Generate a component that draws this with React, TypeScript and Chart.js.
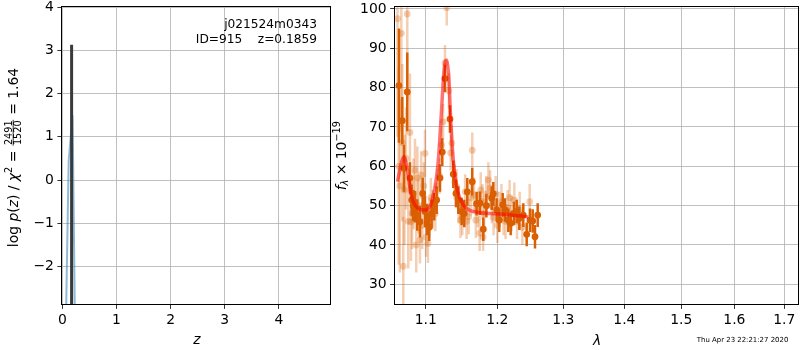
import React, { useEffect, useRef } from 'react';
import { Chart, registerables } from 'chart.js';
Chart.register(...registerables);

const FONT = '"DejaVu Sans", sans-serif';
const FS = 13.9;
const FS_SMALL = 9.7;
const FS_NOTE = 12.2;

// ---------- Left panel: redshift probability ----------
const zGrid = [0.05, 0.118, 0.19, 0.245];
const logPz = [-4.5, 0.45, 1.5, -4.5];
const zBest = 0.172;
const zBestExtent = [-3.5, 3.13];
const zTicks = [0, 1, 2, 3, 4];
const logPTicks = [-2, -1, 0, 1, 2, 3, 4];
const zMin = 0, zMax = 4.97;
const logPMin = -2.87, logPMax = 4;
const objName = 'j021524m0343';
const idLine = 'ID=915    z=0.1859';

// ---------- Right panel: spectrum ----------
const lamTicks = [1.1, 1.2, 1.3, 1.4, 1.5, 1.6, 1.7];
const fluxTicks = [30, 40, 50, 60, 70, 80, 90, 100];
const lamMin = 1.0598, lamMax = 1.7312;
const fluxMin = 25, fluxMax = 100.43;

const darkLam = [1.0649, 1.0692, 1.0714, 1.0757, 1.0792, 1.0815, 1.0836, 1.0858, 1.0888, 1.0924, 1.0960, 1.0991, 1.1020, 1.1048, 1.1080, 1.1115, 1.1148, 1.1193, 1.1224, 1.1261, 1.1329, 1.1375, 1.1412, 1.1444, 1.1491, 1.1528, 1.1570, 1.1640, 1.1702, 1.1749, 1.1797, 1.1841, 1.1918, 1.1941, 1.1990, 1.2028, 1.2078, 1.2112, 1.2161, 1.2196, 1.2245, 1.2285, 1.2324, 1.2384, 1.2435, 1.2485, 1.2526, 1.2561, 1.2602];
const darkFlux = [80.5, 71.6, 59.5, 78.9, 57.0, 51.4, 50.0, 49.7, 47.6, 45.9, 53.1, 48.5, 46.5, 44.5, 48.0, 49.7, 51.4, 57.0, 63.6, 82.3, 72.0, 58.0, 53.1, 51.4, 48.5, 48.0, 53.5, 56.1, 50.5, 50.6, 44.0, 50.0, 51.9, 53.0, 48.9, 46.3, 50.2, 48.9, 46.3, 45.5, 48.0, 48.5, 46.8, 47.6, 42.7, 46.3, 46.1, 42.1, 47.6];
const darkErr = [14.5, 6, 6, 10, 4, 4, 4, 4, 4, 4, 4, 4, 4, 3.5, 3.5, 3.5, 3.5, 3.5, 3.5, 3.5, 3.5, 3.5, 3.5, 3.5, 3.5, 3.5, 3.5, 3.5, 3, 3, 3, 3, 3, 3, 3, 3, 3, 3, 3, 3, 3, 3, 3, 3, 3, 3, 3, 3, 3];

const lightLam = [1.0630, 1.0645, 1.0660, 1.0680, 1.0692, 1.0705, 1.0720, 1.0740, 1.0757, 1.0770, 1.0792, 1.0805, 1.0820, 1.0840, 1.0858, 1.0875, 1.0890, 1.0905, 1.0924, 1.0940, 1.0955, 1.0975, 1.0991, 1.1005, 1.1030, 1.1050, 1.1070, 1.1095, 1.1130, 1.1160, 1.1190, 1.1215, 1.1235, 1.1261, 1.1285, 1.1315, 1.1340, 1.1355, 1.1395, 1.1420, 1.1450, 1.1475, 1.1500, 1.1540, 1.1560, 1.1590, 1.1620, 1.1640, 1.1665, 1.1690, 1.1720, 1.1745, 1.1760, 1.1785, 1.1795, 1.1810, 1.1840, 1.1870, 1.1895, 1.1920, 1.1945, 1.1975, 1.2000, 1.2030, 1.2060, 1.2090, 1.2120, 1.2150, 1.2180, 1.2210, 1.2250, 1.2290, 1.2330, 1.2370, 1.2480];
const lightFlux = [97.5, 60.0, 55.0, 93.8, 66.0, 34.6, 54.0, 62.0, 98.7, 46.0, 68.6, 45.9, 48.0, 53.0, 59.0, 40.0, 57.0, 50.0, 41.3, 57.8, 45.0, 55.0, 63.3, 42.0, 40.4, 47.0, 52.0, 49.0, 48.0, 55.0, 57.5, 65.4, 71.3, 86.3, 100.3, 79.2, 63.4, 65.9, 56.0, 54.8, 50.0, 46.3, 47.0, 53.5, 46.0, 47.2, 52.0, 64.1, 52.7, 46.3, 49.0, 43.0, 54.0, 51.0, 42.0, 48.0, 53.0, 56.5, 54.5, 50.0, 47.0, 53.0, 45.0, 49.0, 51.0, 47.0, 46.0, 49.5, 52.0, 48.0, 51.4, 46.0, 49.0, 44.5, 51.0];
const lightErr = [30, 25, 22, 25, 20, 12.6, 14, 13, 22, 12, 15, 10, 9, 9, 8, 7, 8, 7, 6, 6, 6, 6, 6, 5, 5, 5, 5, 5, 4.5, 4.5, 4.5, 4.5, 4.5, 4.5, 4.5, 4.5, 4.5, 4.5, 4.5, 4.5, 4.5, 4.5, 4.5, 4.5, 4.5, 4.5, 4.5, 4.5, 4.5, 4.5, 4.5, 4.5, 4.5, 4.5, 3.5, 4.5, 4.5, 4.5, 4.5, 4.5, 4.5, 4.5, 4.5, 4.5, 4.5, 4.5, 4.5, 4.5, 4.5, 4.5, 4.5, 4.5, 4.5, 4.5, 4.5];

const modelLam = [1.0630, 1.0660, 1.0690, 1.0714, 1.0740, 1.0769, 1.0790, 1.0815, 1.0845, 1.0881, 1.0930, 1.0990, 1.1030, 1.1057, 1.1080, 1.1102, 1.1125, 1.1148, 1.1165, 1.1180, 1.1197, 1.1214, 1.1230, 1.1246, 1.1265, 1.1284, 1.1300, 1.1313, 1.1325, 1.1337, 1.1356, 1.1375, 1.1398, 1.1422, 1.1455, 1.1490, 1.1530, 1.1584, 1.1650, 1.1750, 1.1900, 1.2050, 1.2200, 1.2330, 1.2460];
const modelFlux = [56.1, 59.0, 61.5, 62.4, 61.0, 57.8, 54.8, 52.2, 50.6, 49.6, 49.0, 48.9, 49.2, 49.8, 50.8, 52.6, 54.8, 57.6, 60.5, 64.0, 69.0, 74.3, 79.5, 84.0, 86.6, 87.0, 85.3, 82.8, 78.0, 72.7, 66.5, 61.6, 57.6, 54.8, 52.5, 51.0, 49.8, 49.0, 48.5, 48.2, 48.0, 47.9, 47.6, 47.4, 47.1];

const timestamp = 'Thu Apr 23 22:21:27 2020';

const ORANGE = 'rgb(217,95,2)';
const ORANGE_LIGHT = 'rgba(217,95,2,0.3)';

// ---------- helpers ----------
type Piece = { t?: string; it?: boolean; s?: number; dy?: number; frac?: [string, string] };

function pieceWidth(ctx: CanvasRenderingContext2D, p: Piece) {
  if (p.frac) {
    ctx.font = `${FS_SMALL}px ${FONT}`;
    return Math.max(ctx.measureText(p.frac[0]).width, ctx.measureText(p.frac[1]).width) + 2.4;
  }
  ctx.font = `${p.it ? 'italic ' : ''}${p.s ?? FS}px ${FONT}`;
  return ctx.measureText(p.t || '').width;
}

function drawRich(ctx: CanvasRenderingContext2D, pieces: Piece[], cx: number, cy: number, rotate: boolean) {
  ctx.save();
  ctx.translate(cx, cy);
  if (rotate) ctx.rotate(-Math.PI / 2);
  const widths = pieces.map((p) => pieceWidth(ctx, p));
  const total = widths.reduce((a, b) => a + b, 0);
  let x = -total / 2;
  ctx.fillStyle = '#000';
  ctx.strokeStyle = '#000';
  ctx.textBaseline = 'alphabetic';
  pieces.forEach((p, i) => {
    const w = widths[i];
    if (p.frac) {
      ctx.font = `${FS_SMALL}px ${FONT}`;
      ctx.textAlign = 'center';
      ctx.fillText(p.frac[0], x + w / 2, -5.6);
      ctx.fillText(p.frac[1], x + w / 2, 3.6);
      ctx.lineWidth = 0.8;
      ctx.beginPath();
      ctx.moveTo(x + 0.6, -4.3);
      ctx.lineTo(x + w - 0.6, -4.3);
      ctx.stroke();
    } else {
      ctx.font = `${p.it ? 'italic ' : ''}${p.s ?? FS}px ${FONT}`;
      ctx.textAlign = 'left';
      ctx.fillText(p.t || '', x, p.dy || 0);
    }
    x += w;
  });
  ctx.restore();
}

const framePlugin = {
  id: 'frame',
  afterDraw(chart: any) {
    const { ctx, chartArea: a } = chart;
    ctx.save();
    ctx.strokeStyle = '#000';
    ctx.lineWidth = 1;
    const l = Math.round(a.left) - 0.5, t = Math.round(a.top) - 0.5;
    const r = Math.round(a.right) - 0.5, b = Math.round(a.bottom) + 0.5;
    ctx.strokeRect(l, t, r - l, b - t);
    ctx.restore();
  },
};

const errorBarPlugin = {
  id: 'errbars',
  beforeDatasetDraw(chart: any, args: any) {
    const ds = chart.data.datasets[args.index];
    const errs: number[] | undefined = ds.errs;
    if (!errs) return;
    const xs = chart.scales.x, ys = chart.scales.y;
    const { ctx, chartArea: a } = chart;
    ctx.save();
    ctx.beginPath();
    ctx.rect(a.left, a.top, a.right - a.left, a.bottom - a.top);
    ctx.clip();
    ctx.strokeStyle = ds.errColor;
    ctx.lineWidth = ds.errWidth;
    ds.data.forEach((p: any, i: number) => {
      const x = xs.getPixelForValue(p.x);
      ctx.beginPath();
      ctx.moveTo(x, ys.getPixelForValue(p.y - errs[i]));
      ctx.lineTo(x, ys.getPixelForValue(p.y + errs[i]));
      ctx.stroke();
    });
    ctx.restore();
  },
};

const leftText = {
  id: 'leftText',
  afterDraw(chart: any) {
    const { ctx, chartArea: a } = chart;
    ctx.save();
    ctx.fillStyle = '#000';
    ctx.font = `${FS_NOTE}px ${FONT}`;
    ctx.textAlign = 'right';
    ctx.textBaseline = 'alphabetic';
    ctx.fillText(objName, 317, 27.5);
    ctx.fillText(idLine, 317, 43);
    ctx.font = `italic ${FS}px ${FONT}`;
    ctx.textAlign = 'center';
    ctx.fillText('z', (a.left + a.right) / 2, 343.5);
    ctx.restore();
    drawRich(ctx, [
      { t: 'log ' },
      { t: 'p', it: true },
      { t: '(' },
      { t: 'z', it: true },
      { t: ') / ' },
      { t: 'χ', it: true },
      { t: '2', s: FS_SMALL, dy: -5.5 },
      { t: ' = ' },
      { frac: ['2491', '1520'] },
      { t: ' = 1.64' },
    ], 17.5, 157.5, true);
  },
};

const rightText = {
  id: 'rightText',
  afterDraw(chart: any) {
    const { ctx, chartArea: a } = chart;
    ctx.save();
    ctx.fillStyle = '#000';
    ctx.font = `italic ${FS}px ${FONT}`;
    ctx.textAlign = 'center';
    ctx.textBaseline = 'alphabetic';
    ctx.fillText('λ', (a.left + a.right) / 2, 344.5);
    ctx.font = `6.94px ${FONT}`;
    ctx.textAlign = 'right';
    ctx.fillText(timestamp, 463.3, 342);
    ctx.restore();
    drawRich(ctx, [
      { t: 'f', it: true },
      { t: 'λ', it: true, s: FS_SMALL, dy: 2.8 },
      { t: ' × 10' },
      { t: '−19', s: FS_SMALL, dy: -5.5 },
    ], 20.5, 155.7, true);
  },
};

const gridOpts = {
  color: '#b0b0b0',
  lineWidth: 0.8,
  drawTicks: true,
  tickLength: 4.9,
  tickColor: '#000',
  tickWidth: 0.8,
};

const fmtMinus = (v: number) => (v < 0 ? '\u2212' + Math.abs(v) : String(v));

function yAxisFit(width: number) {
  return (s: any) => {
    s.width = width;
    s.paddingTop = 0;
    s.paddingBottom = 0;
  };
}
function xAxisFit(height: number) {
  return (s: any) => {
    s.height = height;
    s.paddingLeft = 0;
    s.paddingRight = 0;
  };
}

export default function App() {
  const leftRef = useRef<HTMLCanvasElement>(null);
  const rightRef = useRef<HTMLCanvasElement>(null);

  useEffect(() => {
    const tickFont = { family: FONT, size: FS };
    const c1 = new Chart(leftRef.current as HTMLCanvasElement, {
      type: 'scatter',
      data: {
        datasets: [
          {
            data: zGrid.map((z, i) => ({ x: z, y: logPz[i] })),
            showLine: true,
            borderColor: 'rgba(31,119,180,0.5)',
            borderWidth: 2,
            pointRadius: 0,
            clip: 0,
            order: 1,
          } as any,
          {
            data: zBestExtent.map((y) => ({ x: zBest, y })),
            showLine: true,
            borderColor: '#3a3a3a',
            borderWidth: 3,
            pointRadius: 0,
            clip: 0,
            order: 0,
          } as any,
        ],
      },
      options: {
        animation: false,
        responsive: false,
        maintainAspectRatio: false,
        events: [],
        layout: { autoPadding: false, padding: { top: 7.2, right: 13.7, left: 0, bottom: 0 } },
        plugins: { legend: { display: false }, tooltip: { enabled: false } },
        scales: {
          x: {
            type: 'linear',
            min: zMin,
            max: zMax,
            afterBuildTicks: (s: any) => { s.ticks = zTicks.map((v) => ({ value: v })); },
            afterFit: xAxisFit(46),
            grid: gridOpts,
            border: { display: false },
            ticks: { color: '#000', font: tickFont, padding: 3, maxRotation: 0, autoSkip: false, callback: (v: any) => fmtMinus(Number(v)) },
          },
          y: {
            type: 'linear',
            min: logPMin,
            max: logPMax,
            afterBuildTicks: (s: any) => { s.ticks = logPTicks.map((v) => ({ value: v })); },
            afterFit: yAxisFit(62.3),
            grid: gridOpts,
            border: { display: false },
            ticks: { color: '#000', font: tickFont, padding: 3.5, autoSkip: false, callback: (v: any) => fmtMinus(Number(v)) },
          },
        },
      } as any,
      plugins: [framePlugin, leftText],
    });

    const c2 = new Chart(rightRef.current as HTMLCanvasElement, {
      type: 'scatter',
      data: {
        datasets: [
          {
            data: modelLam.map((x, i) => ({ x, y: modelFlux[i] })),
            showLine: true,
            borderColor: 'rgba(255,0,0,0.55)',
            borderWidth: 3.5,
            pointRadius: 0,
            cubicInterpolationMode: 'monotone',
            clip: 0,
            order: 0,
          } as any,
          {
            data: darkLam.map((x, i) => ({ x, y: darkFlux[i] })),
            errs: darkErr,
            errColor: ORANGE,
            errWidth: 2.5,
            backgroundColor: ORANGE,
            borderWidth: 0,
            pointRadius: 3.4,
            clip: 0,
            order: 1,
          } as any,
          {
            data: lightLam.map((x, i) => ({ x, y: lightFlux[i] })),
            errs: lightErr,
            errColor: ORANGE_LIGHT,
            errWidth: 2.5,
            backgroundColor: ORANGE_LIGHT,
            borderWidth: 0,
            pointRadius: 3.4,
            clip: 0,
            order: 2,
          } as any,
        ],
      },
      options: {
        animation: false,
        responsive: false,
        maintainAspectRatio: false,
        events: [],
        layout: { autoPadding: false, padding: { top: 7.2, right: 0.7, left: 0, bottom: 0 } },
        plugins: { legend: { display: false }, tooltip: { enabled: false } },
        scales: {
          x: {
            type: 'logarithmic',
            min: lamMin,
            max: lamMax,
            afterBuildTicks: (s: any) => { s.ticks = lamTicks.map((v) => ({ value: v })); },
            afterFit: xAxisFit(46),
            grid: gridOpts,
            border: { display: false },
            ticks: { color: '#000', font: tickFont, padding: 3, maxRotation: 0, autoSkip: false, callback: (v: any) => Number(v).toFixed(1) },
          },
          y: {
            type: 'linear',
            min: fluxMin,
            max: fluxMax,
            afterBuildTicks: (s: any) => { s.ticks = fluxTicks.map((v) => ({ value: v })); },
            afterFit: yAxisFit(70),
            grid: gridOpts,
            border: { display: false },
            ticks: { color: '#000', font: tickFont, padding: 3.5, autoSkip: false, callback: (v: any) => String(v) },
          },
        },
      } as any,
      plugins: [errorBarPlugin, framePlugin, rightText],
    });

    return () => {
      c1.destroy();
      c2.destroy();
    };
  }, []);

  return (
    <div style={{ position: 'absolute', left: 0, top: 0, width: 800, height: 350, background: '#fff', overflow: 'hidden' }}>
      <canvas ref={leftRef} width={345} height={350} style={{ position: 'absolute', left: 0, top: 0, width: 345, height: 350 }} />
      <canvas ref={rightRef} width={475} height={350} style={{ position: 'absolute', left: 325, top: 0, width: 475, height: 350 }} />
    </div>
  );
}
